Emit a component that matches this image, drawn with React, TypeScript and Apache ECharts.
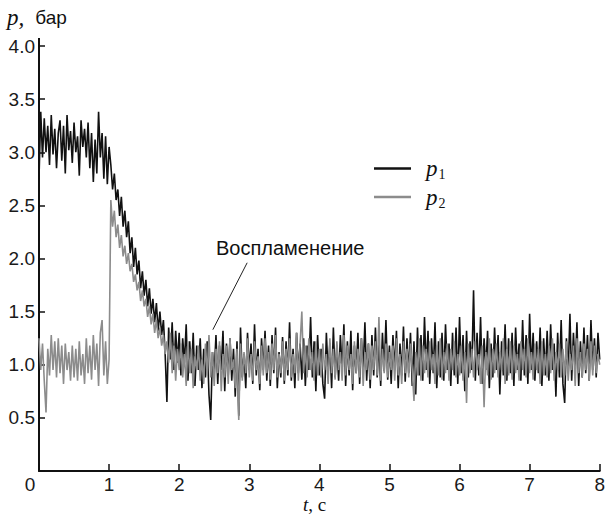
import React, { useEffect, useRef } from "react";
import * as echarts from "echarts";

// sampling step of the recorded signals, seconds
const dt = 0.025;

// p1, бар (black) — t = 0 … 8 s, step dt
const p1: number[] = [
  2.75,
  3.38, 2.95, 3.32, 3.00, 3.25, 2.88, 3.35, 2.98, 3.22, 2.85,
  3.18, 3.30, 2.92, 3.25, 2.80, 3.35, 3.02, 3.20, 2.90, 3.28,
  3.00, 3.15, 2.78, 3.30, 3.05, 3.22, 2.95, 3.28, 2.85, 3.18,
  2.72, 3.12, 2.80, 3.38, 2.95, 3.18, 2.75, 3.15, 2.70, 3.05,
  2.88, 2.65, 2.80, 2.55, 2.65, 2.40, 2.58, 2.30, 2.45, 2.20,
  2.35, 2.05, 2.20, 1.92, 2.10, 1.85, 1.98, 1.72, 1.88, 1.65,
  1.80, 1.55, 1.72, 1.48, 1.62, 1.40, 1.58, 1.32, 1.50, 1.28,
  1.42, 1.10, 0.65, 1.35, 1.05, 1.40, 0.95, 1.32, 1.02, 1.30,
  0.90, 1.25, 1.02, 1.38, 0.85, 1.22, 0.92, 1.30, 0.80, 1.18,
  0.95, 1.25, 0.78, 1.15, 0.88, 1.22, 0.72, 0.48, 1.12, 0.92,
  1.28, 0.82, 1.18, 0.95, 1.32, 0.75, 1.20, 0.90, 1.25, 0.85,
  1.15, 0.70, 1.22, 0.52, 1.35, 0.88, 1.10, 0.78, 1.30, 0.95,
  1.20, 0.82, 1.38, 0.90, 1.15, 0.76, 1.25, 0.95, 1.32, 0.85,
  1.18, 0.80, 1.28, 0.92, 1.35, 0.78, 1.12, 0.88, 1.26, 0.82,
  1.22, 0.90, 1.40, 0.85, 1.15, 0.78, 1.30, 0.92, 1.20, 0.86,
  1.25, 0.80, 1.18, 0.95, 1.45, 0.88, 1.22, 0.75, 1.28, 0.90,
  1.15, 0.82, 0.68, 1.30, 0.92, 1.20, 0.78, 1.35, 0.88, 1.18,
  0.85, 1.28, 0.95, 1.38, 0.80, 1.22, 0.90, 1.32, 0.76, 1.18,
  0.92, 1.30, 0.82, 1.25, 0.95, 1.40, 0.85, 1.20, 0.78, 1.28,
  0.90, 1.35, 0.88, 1.22, 0.80, 1.30, 0.94, 1.42, 0.86, 1.18,
  0.82, 1.28, 0.95, 1.32, 0.78, 1.20, 0.90, 1.36, 0.84, 1.25,
  0.92, 1.30, 0.80, 1.22, 0.72, 1.35, 0.90, 1.28, 0.85, 1.45,
  0.95, 1.32, 0.82, 1.25, 0.92, 1.40, 0.78, 1.22, 0.88, 1.30,
  0.85, 1.38, 0.95, 1.20, 0.80, 1.30, 0.90, 1.35, 0.82, 1.45,
  0.92, 1.28, 0.75, 1.32, 0.88, 1.22, 0.95, 1.70, 0.85, 1.30,
  0.90, 1.45, 0.82, 1.25, 0.95, 1.32, 0.78, 1.20, 0.88, 1.35,
  0.95, 1.28, 0.72, 1.22, 0.90, 1.38, 0.85, 1.25, 0.92, 1.30,
  0.80, 1.35, 0.95, 1.20, 0.85, 1.42, 0.90, 1.28, 0.82, 1.48,
  0.95, 1.30, 0.85, 1.22, 0.92, 1.35, 0.80, 1.25, 0.90, 1.32,
  0.85, 1.38, 0.95, 1.20, 0.70, 1.30, 0.88, 1.42, 0.82, 0.64,
  1.25, 0.92, 1.48, 0.85, 1.30, 0.95, 1.40, 0.80, 1.22, 0.88,
  1.35, 0.92, 1.28, 0.85, 1.42, 0.95, 1.25, 0.88, 1.30, 1.05,
];

// p2, бар (grey) — t = 0 … 8 s, step dt
const p2: number[] = [
  1.25,
  0.95, 1.20, 0.85, 0.55, 1.15, 0.90, 1.28, 0.95, 1.22, 0.88,
  1.25, 0.92, 1.18, 0.82, 1.20, 0.95, 1.12, 0.85, 1.18, 0.88,
  1.15, 0.85, 1.22, 0.90, 1.10, 0.82, 1.25, 0.92, 1.18, 0.86,
  1.28, 0.95, 1.20, 0.80, 1.30, 1.42, 0.90, 1.22, 0.82, 1.05,
  2.55, 2.30, 2.45, 2.20, 2.32, 2.10, 2.22, 2.02, 2.12, 1.95,
  2.05, 1.88, 1.95, 1.78, 1.85, 1.70, 1.78, 1.60, 1.70, 1.55,
  1.62, 1.45, 1.55, 1.38, 1.48, 1.30, 1.42, 1.25, 1.35, 1.18,
  1.28, 1.10, 1.22, 1.02, 1.30, 0.92, 1.18, 0.85, 1.15, 0.95,
  1.20, 0.88, 1.10, 0.80, 1.22, 0.92, 1.15, 0.78, 1.08, 0.95,
  1.18, 0.85, 1.05, 0.82, 1.20, 0.90, 1.28, 0.88, 1.12, 0.80,
  1.15, 0.92, 1.22, 0.75, 1.10, 0.88, 1.18, 0.82, 1.25, 0.95,
  1.05, 0.78, 1.15, 0.48, 1.20, 0.85, 1.12, 0.92, 1.25, 0.88,
  1.10, 0.85, 1.22, 0.95, 1.08, 0.82, 1.18, 0.90, 1.25, 0.92,
  1.12, 0.86, 1.20, 0.95, 1.28, 0.88, 1.10, 0.92, 1.22, 0.85,
  1.15, 0.95, 1.25, 0.88, 1.10, 0.92, 1.30, 0.85, 1.20, 1.50,
  0.92, 1.18, 0.88, 1.25, 0.95, 1.12, 0.85, 1.22, 0.90, 1.15,
  0.88, 1.20, 0.95, 1.10, 0.82, 1.25, 0.92, 1.15, 0.86, 1.22,
  0.95, 1.12, 0.85, 1.28, 0.90, 1.18, 0.95, 1.10, 0.82, 1.22,
  0.92, 1.15, 0.88, 1.25, 0.80, 1.12, 0.95, 1.20, 0.86, 1.18,
  0.95, 1.22, 0.90, 1.45, 0.85, 1.15, 0.92, 1.20, 0.88, 1.12,
  0.95, 1.18, 0.85, 1.25, 0.90, 1.10, 0.82, 1.22, 0.92, 1.15,
  0.88, 1.20, 0.95, 0.66, 1.12, 0.90, 1.25, 0.85, 1.18, 0.92,
  1.15, 0.88, 1.22, 0.95, 1.10, 0.82, 1.18, 0.90, 1.25, 0.86,
  1.12, 0.92, 1.20, 0.85, 1.15, 0.95, 1.22, 0.88, 1.10, 0.90,
  1.18, 0.85, 1.12, 0.64, 1.20, 0.92, 1.15, 0.88, 1.22, 0.95,
  1.10, 0.82, 1.18, 0.60, 1.12, 0.90, 1.25, 0.86, 1.15, 0.92,
  1.20, 0.88, 1.12, 0.95, 1.25, 0.82, 1.15, 0.90, 1.22, 0.86,
  1.18, 0.92, 1.10, 0.85, 1.22, 0.95, 1.15, 0.88, 1.25, 0.92,
  1.12, 0.86, 1.20, 0.95, 1.15, 0.82, 1.22, 0.90, 1.10, 0.88,
  1.18, 0.92, 1.25, 0.85, 1.12, 0.95, 1.20, 0.88, 1.15, 0.90,
  1.22, 0.85, 1.10, 0.95, 1.18, 0.80, 1.25, 0.92, 1.12, 0.88,
  1.20, 0.95, 1.15, 0.85, 1.22, 0.90, 1.18, 0.92, 1.10, 1.00,
];

// annotation "Воспламенение" leader line ends (t, p)
const ignitionLine: [number, number][] = [
  [2.48, 1.33],
  [2.97, 1.96],
];
const ignitionText = "Воспламенение";

const seriesNames = ["p1", "p2"];
const seriesColors = ["#111111", "#8c8c8c"];

const toPairs = (arr: number[]) =>
  arr.map((v, i) => [Math.round(i * dt * 1000) / 1000, v]);

const SANS = "'Liberation Sans', Arial, sans-serif";
const SERIF = "'Liberation Serif', 'Times New Roman', serif";

export default function App() {
  const ref = useRef<HTMLDivElement>(null);

  useEffect(() => {
    if (!ref.current) return;
    const chart = echarts.init(ref.current, undefined, { renderer: "svg" });
    chart.setOption({
      animation: false,
      backgroundColor: "#ffffff",
      grid: { left: 39, right: 7, top: 46, bottom: 47, containLabel: false },
      xAxis: {
        type: "value",
        min: 0,
        max: 8,
        interval: 1,
        axisLine: { show: true, onZero: false, lineStyle: { color: "#111", width: 2 } },
        axisTick: { show: true, inside: true, length: 7, lineStyle: { color: "#111", width: 1.5 } },
        splitLine: { show: false },
        axisLabel: {
          color: "#1a1a1a",
          fontFamily: SANS,
          fontSize: 19,
          lineHeight: 17,
          margin: 5,
          formatter: (v: number) => (v === 0 ? "{z|0}" : String(v)),
          rich: { z: { fontFamily: SANS, fontSize: 19, lineHeight: 17, color: "#1a1a1a", padding: [0, 18, 0, 0] } },
        },
      },
      yAxis: {
        type: "value",
        min: 0,
        max: 4,
        interval: 0.5,
        axisLine: { show: true, onZero: false, lineStyle: { color: "#111", width: 2 } },
        axisTick: { show: true, inside: true, length: 6, lineStyle: { color: "#111", width: 1.5 } },
        splitLine: { show: false },
        axisLabel: {
          color: "#1a1a1a",
          fontFamily: SANS,
          fontSize: 19,
          margin: 4,
          formatter: (v: number) => (v === 0 ? "" : v.toFixed(1)),
        },
      },
      legend: {
        data: [
          { name: seriesNames[0], itemStyle: { color: seriesColors[0] } },
          { name: seriesNames[1], itemStyle: { color: seriesColors[1] } },
        ],
        orient: "vertical",
        left: 369,
        top: 152,
        icon: "rect",
        itemWidth: 37,
        itemHeight: 2.5,
        itemGap: 4,
        selectedMode: false,
        formatter: (name: string) => `{p|p}{s|${name.slice(1)}}`,
        textStyle: {
          rich: {
            p: { fontFamily: SERIF, fontStyle: "italic", fontSize: 23, color: "#111", padding: [0, 0, 0, 10], lineHeight: 26 },
            s: { fontFamily: SERIF, fontSize: 14, color: "#111", verticalAlign: "bottom", padding: [9, 0, 0, 1] },
          },
        },
      },
      series: [
        {
          name: seriesNames[0],
          type: "line",
          data: toPairs(p1),
          showSymbol: false,
          symbol: "none",
          lineStyle: { color: seriesColors[0], width: 1.6 },
          itemStyle: { color: seriesColors[0] },
          z: 2,
        },
        {
          name: seriesNames[1],
          type: "line",
          data: toPairs(p2),
          showSymbol: false,
          symbol: "none",
          lineStyle: { color: seriesColors[1], width: 1.6 },
          itemStyle: { color: seriesColors[1] },
          z: 3,
          markLine: {
            silent: true,
            symbol: ["none", "none"],
            label: { show: false },
            lineStyle: { color: "#222", width: 1, type: "solid" },
            data: [[{ coord: ignitionLine[0] }, { coord: ignitionLine[1] }]],
          },
        },
      ],
      graphic: [
        {
          type: "line",
          shape: { x1: 39, y1: 38, x2: 39, y2: 47 },
          style: { stroke: "#111", lineWidth: 2 },
        },
        {
          type: "text",
          left: 7,
          top: 6,
          style: {
            text: "{a|p,}{b|бар}",
            rich: {
              a: { fontFamily: SERIF, fontStyle: "italic", fontSize: 23, fill: "#111" },
              b: { fontFamily: SANS, fontSize: 19, fill: "#111", padding: [0, 0, 0, 11] },
            },
          },
        },
        {
          type: "text",
          left: 303,
          top: 495,
          style: {
            text: "{a|t}{b|, c}",
            rich: {
              a: { fontFamily: SERIF, fontStyle: "italic", fontSize: 19, fill: "#111", lineHeight: 19 },
              b: { fontFamily: SERIF, fontSize: 19, fill: "#111", lineHeight: 19 },
            },
          },
        },
        {
          type: "text",
          left: 216,
          top: 238,
          style: { text: ignitionText, fontFamily: SANS, fontSize: 20, fill: "#111" },
        },
      ],
    });
    return () => chart.dispose();
  }, []);

  return (
    <div
      ref={ref}
      style={{ position: "absolute", left: 0, top: 0, width: 608, height: 518, background: "#fff" }}
    />
  );
}
